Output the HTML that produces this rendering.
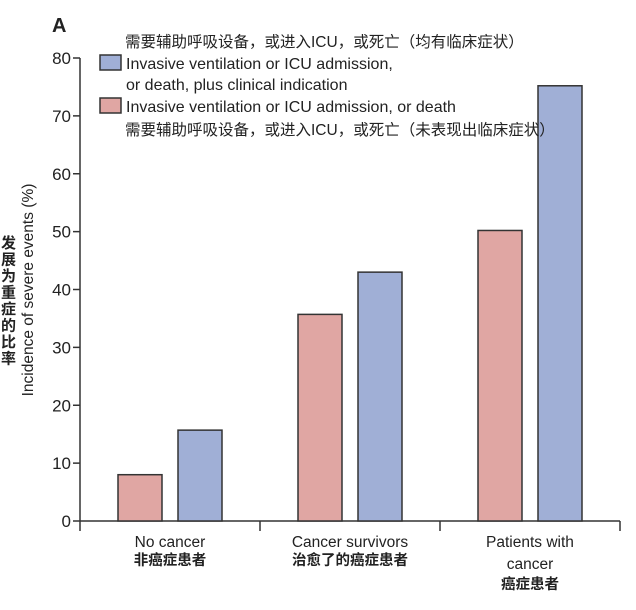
<!DOCTYPE html>
<html><head><meta charset="utf-8"><style>
body{margin:0;background:#fff;}
svg text{font-family:"Liberation Sans","Noto Sans CJK SC",sans-serif;fill:#222;}
</style></head><body>
<svg width="636" height="605" xmlns="http://www.w3.org/2000/svg">
<g id="axes"></g><g id="bars"></g>
<text x="52" y="32" font-size="20" font-weight="bold">A</text>
<g font-size="16">
<text x="125" y="47" font-size="15.5">需要辅助呼吸设备，或进入ICU，或死亡（均有临床症状）</text>
<rect x="100" y="55" width="21" height="15" fill="#a0afd6" stroke="#333" stroke-width="1.5"/>
<text x="126" y="69">Invasive ventilation or ICU admission,</text>
<text x="126" y="90">or death, plus clinical indication</text>
<rect x="100" y="98" width="21" height="15" fill="#e0a6a3" stroke="#333" stroke-width="1.5"/>
<text x="126" y="112">Invasive ventilation or ICU admission, or death</text>
<text x="125" y="135" font-size="15.5">需要辅助呼吸设备，或进入ICU，或死亡（未表现出临床症状）</text>
</g>
<text transform="translate(33,290) rotate(-90)" text-anchor="middle" font-size="15.5">Incidence of severe events (%)</text>
<g id="cnlabel"></g>
</svg>
<script>
const categories=["No cancer","Cancer survivors","Patients with cancer"];
const pinkValues=[8,35.7,50.2];
const blueValues=[15.7,43,75.2];
const yTicks=[0,10,20,30,40,50,60,70,80];
const ns="http://www.w3.org/2000/svg";
const x0=80,x1=620,yBase=521,yTop=58;
function y(v){return yBase-(v/80)*(yBase-yTop);}
function mk(t,a,p){const e=document.createElementNS(ns,t);for(const k in a)e.setAttribute(k,a[k]);p.appendChild(e);return e;}
const ax=document.getElementById('axes');
const yl=mk('line',{x1:x0,y1:y(80),x2:x0,y2:yBase,stroke:'#333','stroke-width':1.5},ax);


const xl=mk('line',{x1:x0,y1:yBase,x2:x1,y2:yBase,stroke:'#333','stroke-width':1.5},ax);


yTicks.forEach(v=>{
 const tk=mk('line',{x1:x0-7,y1:y(v),x2:x0,y2:y(v),stroke:'#333','stroke-width':1.5},ax);
 
 
 const t=mk('text',{x:x0-9,y:y(v)+6,'text-anchor':'end','font-size':17},ax);
 
 
 t.textContent=v;
});
const gw=(x1-x0)/categories.length;
for(let i=0;i<=categories.length;i++){
 const tk=mk('line',{x1:x0+i*gw,y1:yBase,x2:x0+i*gw,y2:yBase+10,stroke:'#333','stroke-width':1.5},ax);
 
 
}
const cn=["非癌症患者","治愈了的癌症患者","癌症患者"];
const en=[["No cancer"],["Cancer survivors"],["Patients with","cancer"]];
const bg=document.getElementById('bars');
categories.forEach((c,i)=>{
 const cx=x0+gw*i+gw/2;
 const bw=44;
 const p=mk('rect',{x:cx-bw-8,y:y(pinkValues[i]),width:bw,height:yBase-y(pinkValues[i]),fill:'#e0a6a3',stroke:'#333','stroke-width':1.5},bg);
 
 
 const b=mk('rect',{x:cx+8,y:y(blueValues[i]),width:bw,height:yBase-y(blueValues[i]),fill:'#a0afd6',stroke:'#333','stroke-width':1.5},bg);
 
 
 let ly=547;
 en[i].forEach(s=>{const t=mk('text',{x:cx,y:ly,'text-anchor':'middle','font-size':15.5},ax);
  
  
  t.textContent=s;ly+=22;});
 const t=mk('text',{x:cx,y:i==2?ly-2:ly-4,'text-anchor':'middle','font-size':14.5,'font-weight':'bold'},ax);
 
 
 t.textContent=cn[i];
});
const chars="发展为重症的比率";
const g=document.getElementById('cnlabel');
[...chars].forEach((ch,k)=>{const t=mk('text',{x:1,y:248+k*16.5,'font-size':15,'font-weight':'bold'},g);
 
 
 t.textContent=ch;});
</script>
</body></html>
